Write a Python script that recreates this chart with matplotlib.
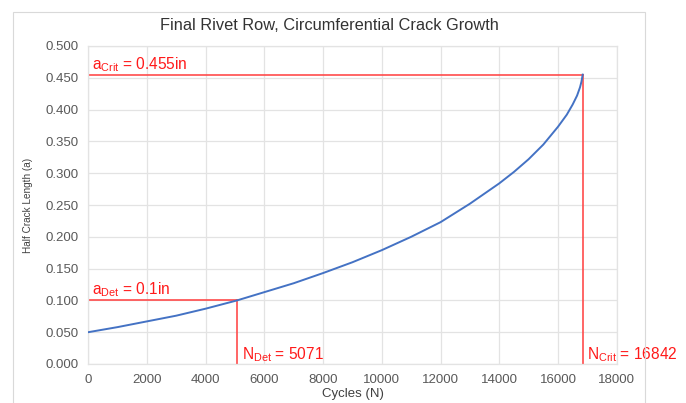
import numpy as np
import matplotlib.pyplot as plt
from matplotlib.patches import Rectangle

plt.rcParams['font.family'] = ['Liberation Sans', 'DejaVu Sans']
plt.rcParams['mathtext.fontset'] = 'custom'
plt.rcParams['mathtext.rm'] = 'Liberation Sans'

# 데이터
cycles = [0, 1000, 2000, 3000, 4000, 5071, 6000, 7000, 8000, 9000, 10000, 11000,
          12000, 13000, 14000, 14500, 15000, 15500, 16000, 16300, 16500, 16650,
          16750, 16800, 16842]
half_crack = [0.050, 0.058, 0.067, 0.076, 0.087, 0.100, 0.113, 0.127, 0.143, 0.160,
              0.179, 0.200, 0.223, 0.252, 0.284, 0.302, 0.322, 0.345, 0.373, 0.392,
              0.408, 0.422, 0.435, 0.444, 0.455]

a_det, n_det = 0.1, 5071
a_crit, n_crit = 0.455, 16842

x_ticks = list(range(0, 18001, 2000))
y_ticks = [0.0, 0.05, 0.1, 0.15, 0.2, 0.25, 0.3, 0.35, 0.4, 0.45, 0.5]

red = '#FF4B4B'
txt_red = '#FF1A1A'
grid_c = '#E3E3E3'

fig = plt.figure(figsize=(6.86, 4.03), dpi=100)
# 차트 외곽 테두리
fig.patches.append(Rectangle((13 / 686, -0.05), (645 - 13) / 686, 1.05 - 12 / 403,
                             transform=fig.transFigure, fill=False,
                             edgecolor='#D9D9D9', linewidth=0.8))

ax = fig.add_axes([88.2 / 686, 1 - 364 / 403, (616.7 - 88.2) / 686, (364 - 46) / 403])

ax.plot(cycles, half_crack, color='#4472C4', linewidth=1.4, zorder=3)

# 검출 / 임계 선
ax.plot([0, n_crit], [a_crit, a_crit], color=red, linewidth=1.2, zorder=2)
ax.plot([n_crit, n_crit], [0, a_crit], color=red, linewidth=1.2, zorder=2)
ax.plot([0, n_det], [a_det, a_det], color=red, linewidth=1.2, zorder=2)
ax.plot([n_det, n_det], [0, a_det], color=red, linewidth=1.2, zorder=2)

fs = 11.2
ax.text(130, 0.463, r'a$_{\mathregular{Crit}}$ = 0.455in', color=txt_red, fontsize=fs,
        ha='left', va='baseline')
ax.text(130, 0.110, r'a$_{\mathregular{Det}}$ = 0.1in', color=txt_red, fontsize=fs,
        ha='left', va='baseline')
ax.text(5230, 0.008, r'N$_{\mathregular{Det}}$ = 5071', color=txt_red, fontsize=fs,
        ha='left', va='baseline')
ax.text(17000, 0.008, r'N$_{\mathregular{Crit}}$ = 16842', color=txt_red, fontsize=fs,
        ha='left', va='baseline', clip_on=False)

ax.set_xlim(0, 18000)
ax.set_ylim(0, 0.5)
ax.set_xticks(x_ticks)
ax.set_yticks(y_ticks)
ax.set_yticklabels([f'{v:.3f}' for v in y_ticks])
ax.tick_params(length=0, labelsize=9.5, colors='#595959', pad=7)
ax.grid(True, color=grid_c, linewidth=0.9)
ax.set_axisbelow(True)
for s in ax.spines.values():
    s.set_color(grid_c)
    s.set_linewidth(0.9)

fig.text(329.5 / 686, 1 - 25 / 403, 'Final Rivet Row, Circumferential Crack Growth',
         fontsize=11.8, color='#333333', ha='center', va='center')
ax.set_xlabel('Cycles (N)', fontsize=9.5, color='#404040', labelpad=2)
ax.set_ylabel('Half Crack Length (a)', fontsize=7.2, color='#404040', labelpad=9)

fig.savefig('out.png', dpi=100)
